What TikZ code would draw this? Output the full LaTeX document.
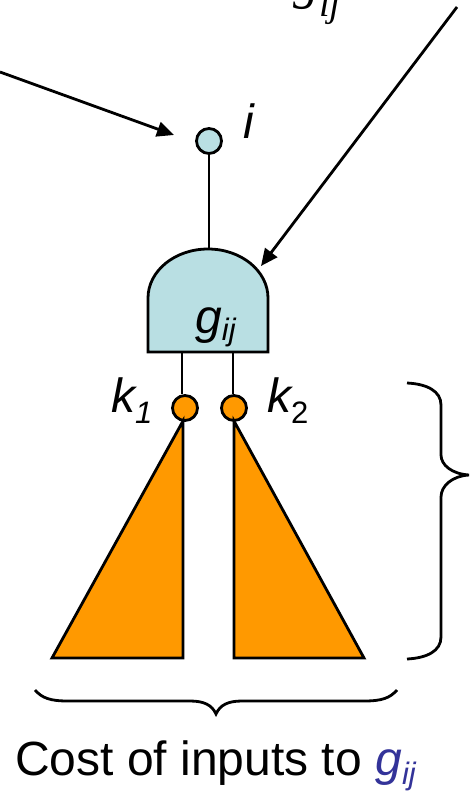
\documentclass[tikz,border=0pt]{standalone}
\usepackage{fontspec}
\setmainfont{Liberation Sans}
\newfontfamily\serifit[Ligatures=TeX]{Liberation Serif}
\usetikzlibrary{arrows.meta}
\definecolor{gatefill}{HTML}{B9DFE3}
\definecolor{conefill}{HTML}{FF9900}
\definecolor{costblue}{HTML}{333399}
\newcommand{\bigsize}{\fontsize{48}{52}\selectfont}
\newcommand{\subsize}{\fontsize{31}{36}\selectfont}
\tikzset{
    wire/.style={line width=2.8pt, black},
    edgearrow/.style={line width=2.8pt, -{Triangle[length=17pt,width=15pt]}},
    pin/.style={circle, draw, line width=2.8pt, inner sep=0pt, minimum size=25pt},
    label/.style={inner sep=0pt, font=\bigsize\itshape},
}
\begin{document}
\begin{tikzpicture}[x=1pt,y=-1pt]
    \useasboundingbox (0,0) rectangle (469,792);

    % Edge label, cut off by the top of the page
    \node[inner sep=0pt, anchor=base west] (edgelabel) at (293,-1)
        {\serifit\itshape\fontsize{52}{56}\selectfont g\raisebox{-18pt}{\fontsize{38}{40}\selectfont ij}};

    % Free ends of the arrows
    \coordinate (leftstart) at (0,72);
    \coordinate (lefthit) at (174,135);
    \coordinate (rightstart) at (457,7);
    \coordinate (gatetop) at (209,249);
    \coordinate (gatehit) at (261,266);
    \coordinate (k1top) at (182,352);
    \coordinate (k2top) at (233,352);

    % Gate
    \draw[wire, fill=gatefill] (148,352) -- (148,298) arc[start angle=180, end angle=360, x radius=60, y radius=49] -- (268,352) -- cycle;
    \node[label, anchor=base west] (gatelabel) at (195,333) {g\raisebox{-7pt}{\subsize ij}};

    % Output pin
    \node[pin, fill=gatefill] (pini) at (209,141) {};
    \node[label, anchor=base west] (labeli) at (243,138) {i};
    \draw[wire] (pini) -- (gatetop);

    % Input pins
    \node[pin, fill=conefill] (pink1) at (185,408) {};
    \node[pin, fill=conefill] (pink2) at (234,408) {};
    \draw[wire] (k1top) -- (k1top |- pink1.north);
    \draw[wire] (k2top) -- (k2top |- pink2.north);
    \node[label, anchor=base west] (labelk1) at (111,412) {k\raisebox{-11pt}{\subsize 1}};
    \node[label, anchor=base west] (labelk2) at (267,412) {k\raisebox{-11pt}{\subsize\upshape 2}};

    % Input cones
    \draw[wire, fill=conefill, line join=miter] (183,421) -- (52,658) -- (183,658) -- cycle;
    \draw[wire, fill=conefill, line join=miter] (234,421) -- (364,658) -- (234,658) -- cycle;

    % Arrows
    \draw[edgearrow] (leftstart) -- (lefthit);
    \draw[edgearrow] (rightstart) -- (gatehit);

    % Right brace
    \draw[wire] (407,383) .. controls (427,384) and (441,391) .. (441,405) -- (441,455)
        .. controls (441,465) and (452,474) .. (469,475)
        .. controls (452,476) and (441,486) .. (441,497) -- (441,637)
        .. controls (441,651) and (427,658) .. (407,659);

    % Bottom brace
    \draw[wire] (35,690) .. controls (42,698) and (50,701) .. (68,701) -- (190,701)
        .. controls (204,701) and (212,705) .. (216,714)
        .. controls (220,705) and (228,701) .. (242,701) -- (364,701)
        .. controls (382,701) and (390,698) .. (397,690);

    % Cost text
    \node[inner sep=0pt, anchor=base west, font=\bigsize] (costlabel) at (15,775)
        {Cost of inputs to \textcolor{costblue}{\itshape g\raisebox{-9pt}{\subsize ij}}};
\end{tikzpicture}
\end{document}
